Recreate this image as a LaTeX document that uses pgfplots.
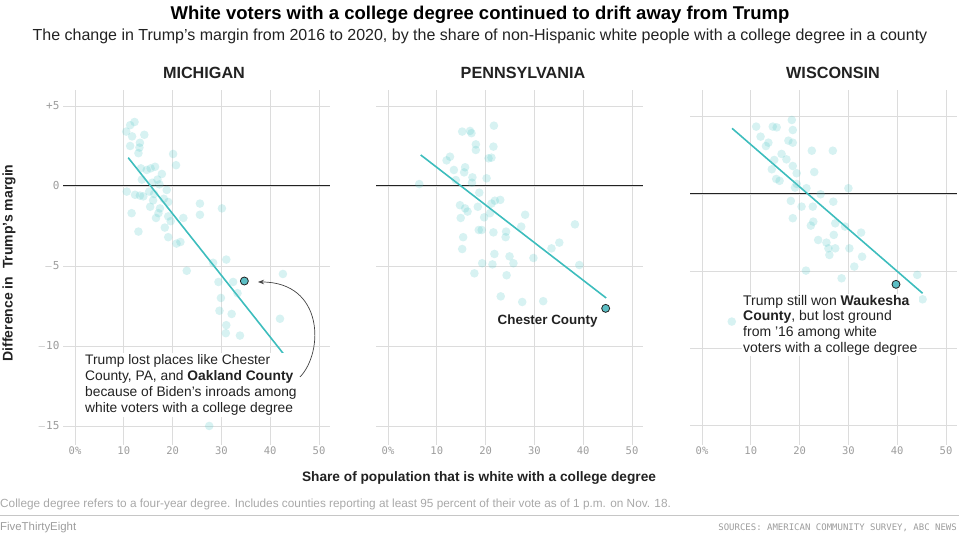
\documentclass[border=0pt]{standalone}
\usepackage{fontspec}
\setmainfont{Liberation Sans}
\newfontfamily\monofont{DejaVu Sans Mono}
\usepackage{pgfplots}
\pgfplotsset{compat=1.18}
\usetikzlibrary{arrows.meta}
\definecolor{dot}{HTML}{5FCBCB}
\definecolor{trend}{HTML}{3DBDBD}
\definecolor{gridc}{HTML}{DCDCDC}
\definecolor{tickc}{HTML}{9C9C9C}
\definecolor{hl}{HTML}{5CBEC4}
\definecolor{txt}{HTML}{222222}
\definecolor{notec}{HTML}{A8A8A8}

\pgfplotsset{
  panel/.style={
    scale only axis, width=267pt, height=355pt,
    xmin=-2.46, xmax=52.25,
    axis line style={draw=none}, tick style={draw=none},
    grid=major, grid style={gridc, line width=0.9pt},
    xtick={0,10,20,30,40,50},
    xticklabels={0\%,10,20,30,40,50},
    ytick={-15,-10,-5,0,5},
    xticklabel style={font=\monofont\fontsize{10.5}{10.5}\selectfont, text=tickc, yshift=2pt},
    yticklabel style={font=\monofont\fontsize{11}{11}\selectfont, text=tickc},
    clip=false,
  },
  dots/.style={only marks, mark=*, mark size=4.3pt, color=dot, draw opacity=0,
    mark options={fill=dot, draw=dot, draw opacity=0, fill opacity=0.25}},
  zero/.style={txt, line width=1pt},
  fit/.style={trend, line width=1.6pt},
  hil/.style={only marks, mark=*, mark size=4pt,
    mark options={fill=hl, draw=txt, line width=0.8pt}},
}

\begin{document}
\begin{tikzpicture}[x=1pt,y=1pt]
\useasboundingbox (0,0) rectangle (959,534);

% ---------- MICHIGAN ----------
\begin{axis}[panel, at={(63pt,89pt)}, anchor=south west,
  ymin=-16.19, ymax=6.0,
  yticklabels={$-$15,$-$10,$-$5,0,+5}]
\addplot[zero] coordinates {(-2.46,0) (52.25,0)};
\addplot[dots] table {
10.5 3.4
11.3 3.8
12.2 4.0
11.7 3.1
14.2 3.2
13.3 2.7
13.2 2.4
11.3 2.5
13.0 2.05
20.1 2.0
20.7 1.3
13.5 1.1
14.7 1.0
15.5 1.1
16.4 1.2
17.8 0.75
16.9 0.4
13.7 0.4
15.8 0.2
17.3 0.1
10.6 -0.35
12.3 -0.55
13.3 -0.6
14.0 -0.65
15.2 -0.35
16.2 -0.5
18.8 -0.25
19.1 -1.0
18.2 -0.8
15.4 -1.3
16.0 -0.9
17.4 -1.4
17.1 -1.7
11.6 -1.7
19.1 -1.9
16.6 -2.0
18.4 -2.6
19.6 -2.2
13.0 -2.85
19.1 -3.2
20.8 -3.6
21.6 -3.5
22.2 -2.0
25.6 -1.1
25.6 -1.8
30.1 -1.4
22.9 -5.3
28.3 -4.8
31.0 -4.6
29.4 -6.0
32.4 -6.0
33.3 -6.7
29.9 -7.0
29.6 -7.8
32.1 -8.0
31.0 -8.7
30.9 -9.2
33.8 -9.35
42.6 -5.5
42.0 -8.3
27.5 -15.0
};
\addplot[fit] coordinates {(10.9,1.77) (42.9,-10.56)};
\addplot[hil] coordinates {(34.7,-5.94)};
\end{axis}

% ---------- PENNSYLVANIA ----------
\begin{axis}[panel, at={(376pt,89pt)}, anchor=south west,
  ymin=-16.19, ymax=6.0, yticklabels={}]
\addplot[zero] coordinates {(-2.46,0) (52.25,0)};
\addplot[dots] table {
6.4 0.12
15.2 3.4
16.8 3.44
17.1 3.3
21.7 3.77
18.0 2.6
18.0 2.25
21.6 2.46
20.6 1.73
21.2 1.77
12.0 1.6
12.7 1.83
13.5 1.0
15.8 1.17
15.6 0.85
17.3 0.54
17.2 0.2
20.2 0.48
13.9 0.37
18.7 -0.42
23.0 -0.87
21.9 -0.92
21.2 -1.1
14.75 -1.2
15.8 -1.4
16.3 -1.6
18.4 -1.3
14.9 -2.0
19.7 -1.96
20.9 -1.7
28.1 -1.8
27.3 -2.54
18.6 -2.75
19.2 -2.75
21.6 -2.9
24.2 -2.85
24.1 -3.2
15.4 -3.2
15.2 -3.94
38.3 -2.4
35.1 -3.54
33.5 -3.9
21.8 -4.25
24.9 -4.4
29.8 -4.5
25.7 -4.83
19.3 -4.83
21.4 -4.9
39.2 -4.94
17.7 -5.46
24.3 -5.58
23.1 -6.9
27.5 -7.25
31.8 -7.2
};
\addplot[fit] coordinates {(6.7,1.94) (44.7,-7.0)};
\addplot[hil] coordinates {(44.6,-7.65)};
\end{axis}

% ---------- WISCONSIN ----------
\begin{axis}[panel, at={(690pt,89pt)}, anchor=south west,
  ymin=-16.25, ymax=6.73, yticklabels={}]
\addplot[zero] coordinates {(-2.46,0) (52.25,0)};
\addplot[dots] table {
11.1 4.36
14.5 4.36
15.3 4.31
18.4 4.79
18.6 4.14
17.7 3.45
18.6 3.32
12.0 3.71
13.6 3.32
13.1 3.1
22.5 2.8
26.8 2.8
16.3 2.59
17.3 2.24
14.8 2.2
18.6 1.81
14.3 1.6
19.4 1.34
23.0 1.42
15.2 0.97
15.9 0.85
19.4 0.65
19.05 0.41
21.4 0.37
24.3 -0.02
30.0 0.37
18.2 -0.45
20.4 -0.82
22.7 -0.82
26.9 -0.5
18.6 -1.57
22.8 -1.79
22.3 -2.05
27.3 -1.9
29.3 -2.11
32.6 -2.5
27.0 -2.65
23.8 -2.98
25.5 -3.15
25.9 -3.52
27.3 -3.52
30.2 -3.52
26.1 -3.95
32.8 -4.06
31.2 -4.7
21.3 -4.96
28.6 -5.46
44.1 -5.24
45.2 -6.82
6.1 -8.26
};
\addplot[fit] coordinates {(6.15,4.25) (45.2,-6.43)};
\addplot[hil] coordinates {(39.75,-5.85)};
\end{axis}

% ---------- Annotations ----------
\node[anchor=north west, fill=white, inner sep=1pt, align=left, text=txt,
  font=\fontsize{13.8}{16.2}\selectfont] at (84,534-353)
  {Trump lost places like Chester\\County, PA, and \textbf{Oakland County}\\because of Biden's inroads among\\white voters with a college degree};
\draw[-{Stealth[length=6pt,width=4.5pt]}, txt!85, line width=0.7pt]
  (300,534-377) .. controls (324,534-352) and (324,534-282) .. (258,534-282);
\node[anchor=base east, text=txt, font=\bfseries\fontsize{13.4}{13.4}\selectfont] at (601,534-325) {Chester County};
\node[anchor=north west, fill=white, inner sep=1pt, align=left, text=txt,
  font=\fontsize{14}{15.6}\selectfont] at (742,534-294)
  {Trump still won \textbf{Waukesha}\\\textbf{County}, but lost ground\\from '16 among white\\voters with a college degree};

% ---------- Titles ----------
\node[anchor=base, text=black, font=\bfseries\fontsize{18.5}{18.5}\selectfont] at (480,534-20)
  {White voters with a college degree continued to drift away from Trump};
\node[anchor=base, text=txt, font=\fontsize{16}{16}\selectfont] at (480,534-41)
  {The change in Trump's margin from 2016 to 2020, by the share of non-Hispanic white people with a college degree in a county};
\node[anchor=base, text=txt, font=\bfseries\fontsize{16.2}{16.2}\selectfont] at (204,534-79) {MICHIGAN};
\node[anchor=base, text=txt, font=\bfseries\fontsize{16.2}{16.2}\selectfont] at (523,534-79) {PENNSYLVANIA};
\node[anchor=base, text=txt, font=\bfseries\fontsize{16.2}{16.2}\selectfont] at (833,534-79) {WISCONSIN};
\node[rotate=90, anchor=center, text=txt, font=\bfseries\fontsize{14}{14}\selectfont] at (9,534-263)
  {Difference in\ \ Trump's margin};
\node[anchor=base, text=txt, font=\bfseries\fontsize{13.7}{13.7}\selectfont] at (479,534-482)
  {Share of population that is white with a college degree};
\node[anchor=base west, text=notec, font=\fontsize{11.8}{11.8}\selectfont, inner sep=0pt] at (0,534-508)
  {College degree refers to a four-year degree. Includes counties reporting at least 95 percent of their vote as of 1 p.m. on Nov. 18.};
\draw[gridc!90!black, line width=1pt] (0,534-516) -- (959,534-516);
\node[anchor=base west, text=tickc, font=\fontsize{11.4}{11.4}\selectfont, inner sep=0pt] at (0,534-531) {FiveThirtyEight};
\node[anchor=base east, text=tickc, font=\monofont\fontsize{9}{9}\selectfont, inner sep=0pt] at (957,534-531)
  {SOURCES: AMERICAN COMMUNITY SURVEY, ABC NEWS};
\end{tikzpicture}
\end{document}
